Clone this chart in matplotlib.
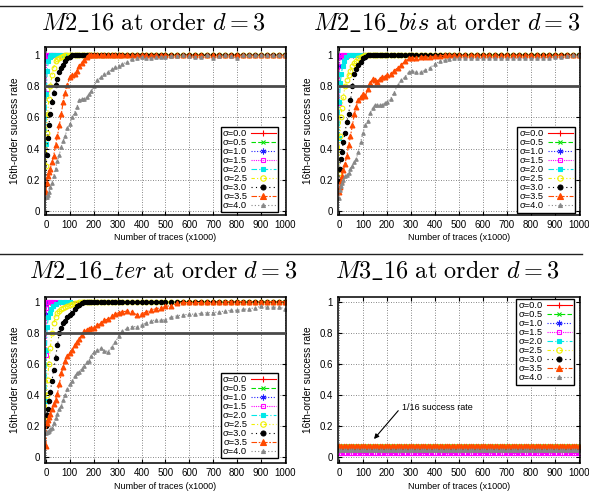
import matplotlib
matplotlib.use("Agg")
import matplotlib.pyplot as plt

plt.rcParams["font.family"] = ["Liberation Sans", "DejaVu Sans"]
plt.rcParams["mathtext.fontset"] = "cm"

SIGMAS = ["0.0", "0.5", "1.0", "1.5", "2.0", "2.5", "3.0", "3.5", "4.0"]
COLORS = ["#ff0000", "#00e000", "#2020ff", "#ff00ff", "#00e8e8",
          "#f0f000", "#000000", "#ff4a00", "#888888"]
MARKERS = ["+", "x", (6, 2, 0), "s", "s", "o", "o", "^", "^"]
FILLED = [True, True, True, False, True, False, True, True, True]
MSIZES = [3.6, 3.0, 3.6, 3.0, 3.0, 3.4, 3.1, 3.5, 2.5]
DASHES = [None, (4, 2), (1, 1.5), (1, 1), (5, 2, 1, 2), (3, 2, 1, 2, 1, 2),
          (1, 3), (5, 1.5, 1.5, 1.5), (1, 2)]

THRESHOLD = 0.8
XTICKS = [0, 100, 200, 300, 400, 500, 600, 700, 800, 900, 1000]
YTICKS = [0, 0.2, 0.4, 0.6, 0.8, 1]
YTICK_LABELS = ["0", "0.2", "0.4", "0.6", "0.8", "1"]

# sample grid (x1000 traces) for sigma <= 2.0
FAST_TRACES = [0, 2, 5, 10, 15, 20, 30, 40, 60, 80, 100, 1000]
# sample grid for sigma >= 2.5
SLOW_TRACES = [0, 3, 7, 12, 18, 25, 32, 40, 48, 56,
               64, 72, 80, 90, 100, 110, 120, 130, 140, 150,
               160, 170, 180, 190, 200, 215, 230, 245, 260, 275,
               290, 305, 320, 340, 360, 380, 400, 420, 440, 460,
               480, 500, 525, 550, 575, 600, 625, 650, 675, 700,
               725, 750, 775, 800, 825, 850, 875, 900, 925, 950,
               975, 1000]

# ---- M2_16 ----
m2_s00 = [1, 1, 1, 1, 1, 1, 1, 1, 1, 1, 1, 1]
m2_s05 = [0.99, 1, 1, 1, 1, 1, 1, 1, 1, 1, 1, 1]
m2_s10 = [0.97, 1, 1, 1, 1, 1, 1, 1, 1, 1, 1, 1]
m2_s15 = [0.76, 0.97, 1, 1, 1, 1, 1, 1, 1, 1, 1, 1]
m2_s20 = [0.43, 0.75, 0.9, 0.96, 0.99, 1, 1, 1, 1, 1, 1, 1]
m2_s25 = [0.29, 0.5, 0.62, 0.72, 0.8, 0.87, 0.92, 0.96, 0.975, 0.985,
          0.99, 0.995, 1, 1, 1, 1, 1, 1, 1, 1,
          1, 1, 1, 1, 1, 1, 1, 1, 1, 1,
          1, 1, 1, 1, 1, 1, 1, 1, 1, 1,
          1, 1, 1, 1, 1, 1, 1, 1, 1, 1,
          1, 1, 1, 1, 1, 1, 1, 1, 1, 1,
          1, 1]
m2_s30 = [0.17, 0.36, 0.47, 0.55, 0.62, 0.7, 0.76, 0.81, 0.85, 0.89,
          0.92, 0.94, 0.96, 0.98, 0.99, 1, 1, 1, 1, 1,
          1, 1, 1, 1, 1, 1, 1, 1, 1, 1,
          1, 1, 1, 1, 1, 1, 1, 1, 1, 1,
          1, 1, 1, 1, 1, 1, 1, 1, 1, 1,
          1, 1, 1, 1, 1, 1, 1, 1, 1, 1,
          1, 1]
m2_s35 = [0.12, 0.18, 0.22, 0.25, 0.27, 0.31, 0.35, 0.42, 0.48, 0.55,
          0.62, 0.70, 0.76, 0.81, 0.86, 0.87, 0.88, 0.90, 0.93, 0.95,
          0.97, 0.99, 1, 1, 1, 1, 1, 1, 1, 1,
          1, 1, 1, 1, 1, 1, 1, 1, 1, 1,
          1, 1, 1, 1, 1, 1, 1, 1, 1, 1,
          1, 1, 1, 1, 1, 1, 1, 1, 1, 1,
          1, 1]
m2_s40 = [0.09, 0.09, 0.10, 0.12, 0.15, 0.18, 0.22, 0.27, 0.32, 0.36,
          0.41, 0.45, 0.48, 0.53, 0.56, 0.60, 0.63, 0.67, 0.71, 0.72,
          0.72, 0.73, 0.75, 0.77, 0.80, 0.84, 0.86, 0.88, 0.89, 0.91,
          0.925, 0.93, 0.945, 0.955, 0.975, 0.98, 0.99, 0.985, 0.985, 0.99,
          0.99, 0.99, 0.995, 0.995, 1.0, 0.995, 0.99, 0.99, 1.0, 0.985,
          0.995, 1.0, 0.995, 0.98, 1.0, 1.0, 1.0, 1.0, 1.0, 1.0,
          1.0, 1.0]

# ---- M2_16_bis ----
bis_s00 = [1, 1, 1, 1, 1, 1, 1, 1, 1, 1, 1, 1]
bis_s05 = [0.99, 1, 1, 1, 1, 1, 1, 1, 1, 1, 1, 1]
bis_s10 = [0.93, 0.99, 1, 1, 1, 1, 1, 1, 1, 1, 1, 1]
bis_s15 = [0.69, 0.93, 0.99, 1, 1, 1, 1, 1, 1, 1, 1, 1]
bis_s20 = [0.47, 0.7, 0.82, 0.88, 0.93, 0.96, 0.99, 1, 1, 1, 1, 1]
bis_s25 = [0.24, 0.48, 0.6, 0.66, 0.73, 0.8, 0.84, 0.87, 0.9, 0.93,
           0.95, 0.96, 0.98, 0.99, 0.995, 1, 1, 1, 1, 1,
           1, 1, 1, 1, 1, 1, 1, 1, 1, 1,
           1, 1, 1, 1, 1, 1, 1, 1, 1, 1,
           1, 1, 1, 1, 1, 1, 1, 1, 1, 1,
           1, 1, 1, 1, 1, 1, 1, 1, 1, 1,
           1, 1]
bis_s30 = [0.19, 0.27, 0.33, 0.38, 0.44, 0.5, 0.57, 0.62, 0.71, 0.80,
           0.88, 0.91, 0.935, 0.955, 0.98, 0.99, 1, 1, 1, 1,
           1, 1, 1, 1, 1, 1, 1, 1, 1, 1,
           1, 1, 1, 1, 1, 1, 1, 1, 1, 1,
           1, 1, 1, 1, 1, 1, 1, 1, 1, 1,
           1, 1, 1, 1, 1, 1, 1, 1, 1, 1,
           1, 1]
bis_s35 = [0.12, 0.15, 0.19, 0.22, 0.26, 0.30, 0.35, 0.42, 0.48, 0.55,
           0.62, 0.67, 0.71, 0.73, 0.75, 0.74, 0.78, 0.82, 0.85, 0.84,
           0.83, 0.85, 0.86, 0.86, 0.87, 0.88, 0.90, 0.92, 0.94, 0.96,
           0.98, 0.985, 0.985, 0.99, 0.99, 0.99, 0.995, 0.995, 1, 1,
           1, 1, 1, 1, 1, 1, 1, 1, 1, 1,
           1, 1, 1, 1, 1, 1, 1, 1, 1, 1,
           1, 1]
bis_s40 = [0.08, 0.13, 0.16, 0.18, 0.20, 0.22, 0.23, 0.24, 0.27, 0.29,
           0.31, 0.33, 0.38, 0.44, 0.50, 0.55, 0.58, 0.63, 0.66, 0.68,
           0.68, 0.68, 0.68, 0.69, 0.70, 0.72, 0.76, 0.81, 0.84, 0.86,
           0.89, 0.90, 0.89, 0.89, 0.905, 0.92, 0.945, 0.96, 0.97, 0.975,
           0.98, 0.985, 0.985, 0.98, 0.98, 0.98, 0.985, 0.98, 0.98, 0.98,
           0.985, 0.98, 0.98, 0.98, 0.98, 0.985, 0.985, 0.99, 0.99, 0.995,
           1.0, 1.0]

# ---- M2_16_ter ----
ter_s00 = [1, 1, 1, 1, 1, 1, 1, 1, 1, 1, 1, 1]
ter_s05 = [0.99, 1, 1, 1, 1, 1, 1, 1, 1, 1, 1, 1]
ter_s10 = [0.92, 0.98, 1, 1, 1, 1, 1, 1, 1, 1, 1, 1]
ter_s15 = [0.66, 0.96, 1, 1, 1, 1, 1, 1, 1, 1, 1, 1]
ter_s20 = [0.36, 0.69, 0.84, 0.90, 0.93, 0.95, 0.97, 0.985, 1, 1, 1, 1]
ter_s25 = [0.24, 0.40, 0.50, 0.60, 0.70, 0.80, 0.86, 0.90, 0.925, 0.94,
           0.955, 0.96, 0.965, 0.975, 0.98, 0.985, 0.99, 0.99, 0.995, 1,
           1, 1, 1, 1, 1, 1, 1, 1, 1, 1,
           1, 1, 1, 1, 1, 1, 1, 1, 1, 1,
           1, 1, 1, 1, 1, 1, 1, 1, 1, 1,
           1, 1, 1, 1, 1, 1, 1, 1, 1, 1,
           1, 1]
ter_s30 = [0.20, 0.27, 0.31, 0.36, 0.42, 0.49, 0.56, 0.64, 0.72, 0.80,
           0.83, 0.86, 0.875, 0.90, 0.915, 0.93, 0.95, 0.97, 0.98, 0.99,
           1, 1, 1, 1, 1, 1, 1, 1, 1, 1,
           1, 1, 1, 1, 1, 1, 1, 1, 1, 1,
           1, 1, 1, 1, 1, 1, 1, 1, 1, 1,
           1, 1, 1, 1, 1, 1, 1, 1, 1, 1,
           1, 1]
ter_s35 = [0.07, 0.22, 0.24, 0.26, 0.28, 0.31, 0.34, 0.37, 0.41, 0.47,
           0.54, 0.58, 0.62, 0.65, 0.67, 0.69, 0.72, 0.74, 0.76, 0.785,
           0.81, 0.82, 0.825, 0.83, 0.83, 0.85, 0.86, 0.88, 0.89, 0.905,
           0.92, 0.93, 0.935, 0.94, 0.935, 0.915, 0.92, 0.935, 0.945, 0.955,
           0.96, 0.97, 0.975, 0.99, 0.995, 0.995, 0.995, 0.995, 0.995, 0.995,
           1, 1, 1, 1, 1, 1, 1, 1, 1, 1,
           1, 1]
ter_s40 = [0.155, 0.16, 0.165, 0.17, 0.18, 0.19, 0.22, 0.25, 0.28, 0.31,
           0.33, 0.37, 0.40, 0.44, 0.47, 0.49, 0.52, 0.54, 0.55, 0.57,
           0.59, 0.61, 0.62, 0.65, 0.68, 0.69, 0.70, 0.685, 0.68, 0.71,
           0.74, 0.78, 0.81, 0.83, 0.84, 0.84, 0.85, 0.865, 0.875, 0.885,
           0.88, 0.885, 0.90, 0.91, 0.915, 0.92, 0.92, 0.925, 0.93, 0.93,
           0.935, 0.94, 0.945, 0.945, 0.95, 0.955, 0.96, 0.97, 0.965, 0.965,
           0.965, 0.955]

# ---- M3_16: every sigma stays flat near 1/16 ----
M3_TRACES = list(range(0, 1001, 10))
M3_LEVELS = [0.07, 0.076, 0.05, 0.026, 0.06, 0.065, 0.053, 0.07, 0.045]

ARROW_HEAD = (146, 0.118)
ARROW_TAIL = (247, 0.30)
ARROW_TEXT = (262, 0.318)


def style_axes(ax, ylim):
    ax.set_xlim(-4, 1005)
    ax.set_ylim(*ylim)
    ax.set_xticks(XTICKS)
    ax.set_yticks(YTICKS)
    ax.set_yticklabels(YTICK_LABELS)
    ax.tick_params(direction="in", length=3, width=0.8, top=True, right=True,
                   labelsize=7, pad=3.5)
    ax.grid(True, color="#606060", linestyle=(0, (1, 2)), linewidth=0.6)
    ax.set_axisbelow(True)
    for sp in ax.spines.values():
        sp.set_linewidth(1.1)
    ax.set_xlabel("Number of traces (x1000)", fontsize=6.5, labelpad=2.5)
    ax.set_ylabel("16th-order success rate", fontsize=7.3, labelpad=5)


def draw_series(ax, xs, ys, i, lw=0.8):
    ls = "-" if DASHES[i] is None else (0, DASHES[i])
    face = COLORS[i] if FILLED[i] else "none"
    ax.plot(xs, ys, color=COLORS[i], linestyle=ls, linewidth=lw,
            marker=MARKERS[i], markersize=MSIZES[i], markerfacecolor=face,
            markeredgecolor=COLORS[i], markeredgewidth=0.8,
            label="σ=" + SIGMAS[i])


def add_legend(ax, loc, anchor):
    leg = ax.legend(loc=loc, bbox_to_anchor=anchor, borderaxespad=0,
                    fontsize=6.7, markerfirst=False, numpoints=1,
                    handlelength=2.7, handletextpad=0.4, labelspacing=0.0,
                    borderpad=0.25, fancybox=False, framealpha=1,
                    edgecolor="black", markerscale=1.15)
    leg.get_frame().set_linewidth(1.0)
    leg.set_zorder(10)


fig = plt.figure(figsize=(5.89, 4.96), dpi=100)

panels = [
    (0.0764, 0.5665, 0.4092, 0.3387, (-0.028, 1.053),
     [m2_s00, m2_s05, m2_s10, m2_s15, m2_s20], [m2_s25, m2_s30, m2_s35, m2_s40],
     ("lower right", (0.968, 0.016))),
    (0.5739, 0.5665, 0.4109, 0.3387, (-0.028, 1.053),
     [bis_s00, bis_s05, bis_s10, bis_s15, bis_s20], [bis_s25, bis_s30, bis_s35, bis_s40],
     ("lower right", (0.979, 0.014))),
    (0.0764, 0.0659, 0.4092, 0.3359, (-0.038, 1.032),
     [ter_s00, ter_s05, ter_s10, ter_s15, ter_s20], [ter_s25, ter_s30, ter_s35, ter_s40],
     ("lower right", (0.968, 0.03))),
]

for left, bottom, w, h, ylim, fast, slow, (loc, anchor) in panels:
    ax = fig.add_axes([left, bottom, w, h])
    style_axes(ax, ylim)
    for i, ys in enumerate(fast):
        draw_series(ax, FAST_TRACES, ys, i)
    for j, ys in enumerate(slow):
        draw_series(ax, SLOW_TRACES, ys, j + 5)
    ax.axhline(THRESHOLD, color="#4a4a4a", linewidth=2.0, zorder=5)
    add_legend(ax, loc, anchor)

# M3_16 panel
ax4 = fig.add_axes([0.5739, 0.0659, 0.4109, 0.3359])
style_axes(ax4, (-0.038, 1.032))
for i, lvl in enumerate(M3_LEVELS):
    draw_series(ax4, M3_TRACES, [lvl] * len(M3_TRACES), i)
ax4.annotate("", xy=ARROW_HEAD, xytext=ARROW_TAIL,
             arrowprops=dict(arrowstyle="-|>", color="black", lw=0.8,
                             mutation_scale=7, shrinkA=0, shrinkB=0))
ax4.text(ARROW_TEXT[0], ARROW_TEXT[1], "1/16 success rate", fontsize=6.5,
         va="center", ha="left")
add_legend(ax4, "upper right", (0.976, 0.986))

# titles
title_kw = dict(fontsize=17.5, ha="center", va="baseline")
fig.text(153 / 589, 1 - 30 / 496, r"$M2\_16\ \mathrm{at\ order}\ d = 3$", **title_kw)
fig.text(447 / 589, 1 - 30 / 496, r"$M2\_16\_bis\ \mathrm{at\ order}\ d = 3$", **title_kw)
fig.text(163 / 589, 1 - 278.5 / 496, r"$M2\_16\_ter\ \mathrm{at\ order}\ d = 3$", **title_kw)
fig.text(447 / 589, 1 - 278.5 / 496, r"$M3\_16\ \mathrm{at\ order}\ d = 3$", **title_kw)

# separator rules above the titles
for y in (6, 254):
    fig.add_artist(plt.Line2D([0, 582 / 589], [1 - y / 496, 1 - y / 496],
                              color="#222222", linewidth=1.0))

fig.savefig("out.png", dpi=100)
